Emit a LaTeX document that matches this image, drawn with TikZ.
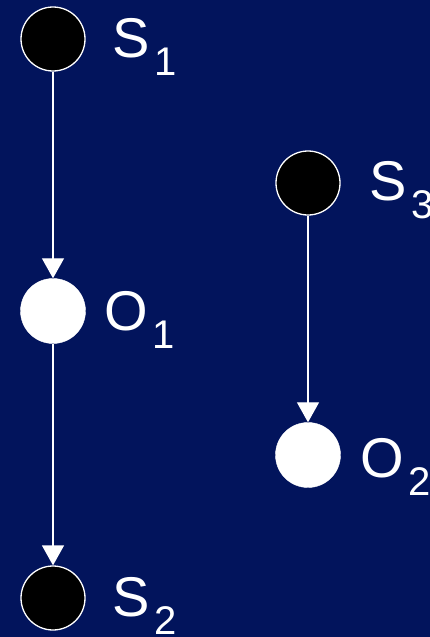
\documentclass[tikz,border=0pt]{standalone}
\usepackage{fontspec}
\setmainfont{Liberation Sans}
\usetikzlibrary{arrows.meta}

\definecolor{navy}{RGB}{2,20,92}
\newcommand{\lowidx}[1]{\kern5pt\raisebox{-18pt}{\fontsize{40}{40}\selectfont #1}}

\tikzset{
  hidden/.style={circle,draw=white,line width=1.3pt,fill=black,minimum size=64pt,inner sep=0pt},
  observed/.style={circle,draw=white,fill=white,minimum size=65pt,inner sep=0pt},
  varname/.style={text=white,anchor=base west,inner sep=0pt,font=\fontsize{56}{56}\selectfont},
  link/.style={white,line width=1.3pt,-{Triangle[width=22pt,length=20pt]}}
}

\begin{document}
\begin{tikzpicture}[x=1pt,y=-1pt]
    \useasboundingbox (0,0) rectangle (430,637);
    \fill[navy] (0,0) rectangle (430,637);
    % chain on the left
    \node[hidden] (s1) at (53,39) {};
    \node[observed] (o1) at (53,311) {};
    \node[hidden] (s2) at (53,598) {};
    % pair on the right
    \node[hidden] (s3) at (308,183) {};
    \node[observed] (o2) at (308,455) {};
    \draw[link] (s1) -- (o1);
    \draw[link] (o1) -- (s2);
    \draw[link] (s3) -- (o2);
    \node[varname] (s1lab) at (112,57) {S\lowidx{1}};
    \node[varname] (o1lab) at (104,330) {O\lowidx{1}};
    \node[varname] (s2lab) at (112,616) {S\lowidx{2}};
    \node[varname] (s3lab) at (369,200) {S\lowidx{3}};
    \node[varname] (o2lab) at (360,477) {O\lowidx{2}};
\end{tikzpicture}
\end{document}
